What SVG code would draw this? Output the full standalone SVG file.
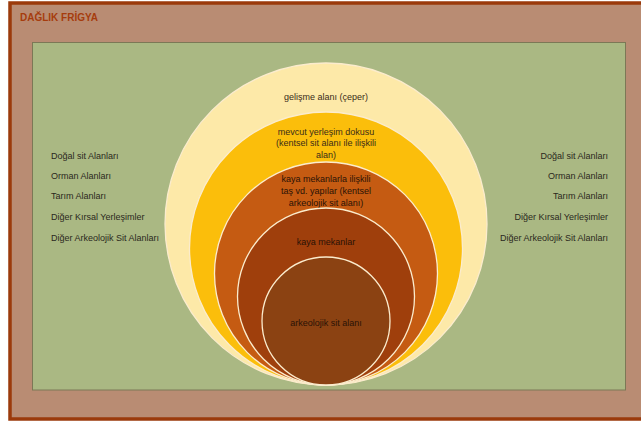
<svg xmlns="http://www.w3.org/2000/svg" width="641" height="423" viewBox="0 0 641 423">
  <style>
    text { font-family: "Liberation Sans", "DejaVu Sans", sans-serif; }
    .lbl { font-size: 9px; fill: #2b2820; }
    .ctr { font-size: 9px; fill: #3a2c18; text-anchor: middle; }
    .dark { fill: #2a1206; }
    .rt { text-anchor: end; }
    .ring { stroke: #fbeccd; stroke-width: 1.3; }
  </style>
  <rect x="0" y="0" width="641" height="423" fill="#ffffff"/>
  <g id="frame">
    <rect x="10" y="3" width="640" height="416" fill="#b98c73" stroke="#9b3a0b" stroke-width="3.5"/>
    <text x="20" y="21" font-size="10px" font-weight="bold" fill="#a63c0d">DAĞLIK FRİGYA</text>
  </g>
  <g id="field">
    <rect x="32.5" y="42.5" width="593" height="347.5" fill="#aab883" stroke="#7c7856" stroke-width="1"/>
  </g>
  <g id="ring-gelisme">
    <circle class="ring" cx="326" cy="224" r="161" fill="#fde9a8"/>
    <text class="ctr" x="326" y="99.5">gelişme alanı (çeper)</text>
  </g>
  <g id="ring-mevcut">
    <circle class="ring" cx="326" cy="248.5" r="136.5" fill="#fbbe0b"/>
    <text class="ctr" x="326" y="134.5">mevcut yerleşim dokusu</text>
    <text class="ctr" x="326" y="146">(kentsel sit alanı ile ilişkili</text>
    <text class="ctr" x="326" y="157.5">alan)</text>
  </g>
  <g id="ring-kentsel-arkeolojik">
    <circle class="ring" cx="326" cy="273.5" r="111.5" fill="#c55b12"/>
    <text class="ctr dark" x="326" y="182">kaya mekanlarla ilişkili</text>
    <text class="ctr dark" x="326" y="194">taş vd. yapılar (kentsel</text>
    <text class="ctr dark" x="326" y="206">arkeolojik sit alanı)</text>
  </g>
  <g id="ring-kaya">
    <circle class="ring" cx="326" cy="296.5" r="88.5" fill="#9f3f0c"/>
    <text class="ctr dark" x="326" y="244.5">kaya mekanlar</text>
  </g>
  <g id="ring-arkeolojik">
    <circle class="ring" cx="326" cy="321" r="64" fill="#8b4212"/>
    <text class="ctr dark" x="326" y="325.5">arkeolojik sit alanı</text>
  </g>
  <g id="list-left">
    <text class="lbl" x="51" y="158.5">Doğal sit Alanları</text>
    <text class="lbl" x="51" y="178.5">Orman Alanları</text>
    <text class="lbl" x="51" y="198.5">Tarım Alanları</text>
    <text class="lbl" x="51" y="219.5">Diğer Kırsal Yerleşimler</text>
    <text class="lbl" x="51" y="240.5">Diğer Arkeolojik Sit Alanları</text>
  </g>
  <g id="list-right">
    <text class="lbl rt" x="608" y="158.5">Doğal sit Alanları</text>
    <text class="lbl rt" x="608" y="178.5">Orman Alanları</text>
    <text class="lbl rt" x="608" y="198.5">Tarım Alanları</text>
    <text class="lbl rt" x="608" y="219.5">Diğer Kırsal Yerleşimler</text>
    <text class="lbl rt" x="608" y="240.5">Diğer Arkeolojik Sit Alanları</text>
  </g>
  <g id="connectors"/>
</svg>
